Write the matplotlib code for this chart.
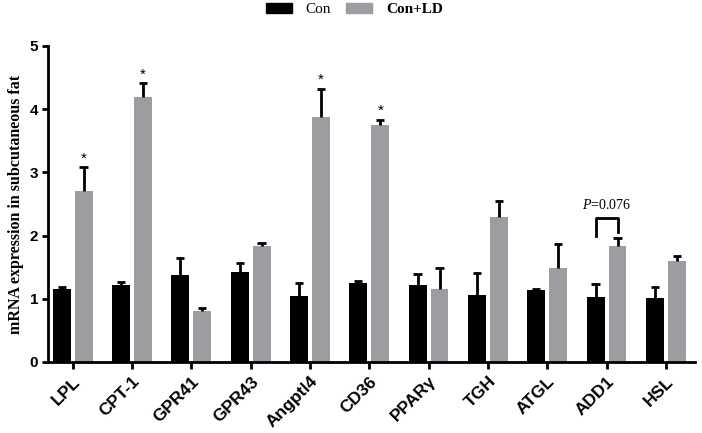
import matplotlib
matplotlib.use('Agg')
import matplotlib.pyplot as plt
import numpy as np
from matplotlib.patches import Patch

plt.rcParams['mathtext.fontset'] = 'custom'
plt.rcParams['mathtext.rm'] = 'Liberation Serif'
plt.rcParams['mathtext.it'] = 'Liberation Serif:italic'

genes = ['LPL', 'CPT-1', 'GPR41', 'GPR43', 'Angptl4', 'CD36', 'PPARγ', 'TGH', 'ATGL', 'ADD1', 'HSL']
con = [1.16, 1.21, 1.38, 1.43, 1.04, 1.25, 1.22, 1.06, 1.14, 1.03, 1.02]
con_err = [0.02, 0.06, 0.27, 0.14, 0.21, 0.03, 0.17, 0.34, 0.02, 0.20, 0.17]
ld = [2.70, 4.19, 0.80, 1.83, 3.87, 3.75, 1.16, 2.29, 1.49, 1.84, 1.60]
ld_err = [0.38, 0.22, 0.06, 0.05, 0.45, 0.08, 0.33, 0.25, 0.37, 0.12, 0.08]
stars = [True, True, False, False, True, True, False, False, False, False, False]

sans = ['Liberation Sans', 'DejaVu Sans']
serif = ['Liberation Serif', 'DejaVu Serif']

fig = plt.figure(figsize=(7.02, 4.33), dpi=100)
ax = fig.add_axes([0.068, 0.164, 0.922, 0.730])

x = np.arange(len(genes))
w = 0.30
gap = 0.035
gray = '#9d9da1'
xc = x - gap - w / 2
xl = x + gap + w / 2

ax.bar(xc, con, w, color='black', zorder=2)
ax.bar(xl, ld, w, color=gray, zorder=2)

# upper-only error bars with a cap at the top
cap = 0.07
for xs, vals, errs in [(xc, con, con_err), (xl, ld, ld_err)]:
    tops = np.array(vals) + np.array(errs)
    ax.vlines(xs, vals, tops, color='black', lw=2, zorder=3)
    ax.hlines(tops, xs - cap, xs + cap, color='black', lw=2, zorder=3)

for i, s in enumerate(stars):
    if s:
        ax.text(xl[i], ld[i] + ld_err[i] + 0.03, '*', ha='center', va='bottom',
                fontsize=11, family=sans)

# P-value bracket for ADD1
k = genes.index('ADD1')
top = 2.27
ax.plot([xc[k], xc[k], xl[k], xl[k]], [2.0, top, top, 2.06], color='black', lw=2, zorder=3)
ax.text(x[k], top + 0.1, r'$\it{P}$=0.076', ha='center', va='bottom', fontsize=10, family=serif)

ax.set_xlim(-0.42, 10.49)
ax.set_ylim(0, 5)
ax.set_yticks(range(6))
ax.set_xticks(x)
ax.set_xticklabels(genes, rotation=45, ha='right', rotation_mode='anchor',
                   fontsize=12.5, fontweight='bold', family=sans)
for lab in ax.get_yticklabels():
    lab.set_fontweight('bold')
    lab.set_fontsize(11)
    lab.set_family(sans)
ax.tick_params(axis='x', width=2, length=5)
ax.tick_params(axis='y', width=2, length=4, pad=3)
ax.spines['top'].set_visible(False)
ax.spines['right'].set_visible(False)
ax.spines['left'].set_linewidth(2)
ax.spines['bottom'].set_linewidth(2)
ax.set_ylabel('mRNA expression in subcutaneous fat', fontsize=11.5, fontweight='bold', family=serif)

handles = [Patch(color='black', label='Con'), Patch(color=gray, label='Con+LD')]
leg = fig.legend(handles=handles, loc='upper center', bbox_to_anchor=(0.505, 1.025), ncol=2,
                 frameon=False, prop={'family': serif, 'size': 11}, handlelength=1.7,
                 handleheight=0.65, handletextpad=0.9, columnspacing=1.0)
leg.get_texts()[1].set_fontweight('bold')

fig.savefig('out.png', dpi=100)
